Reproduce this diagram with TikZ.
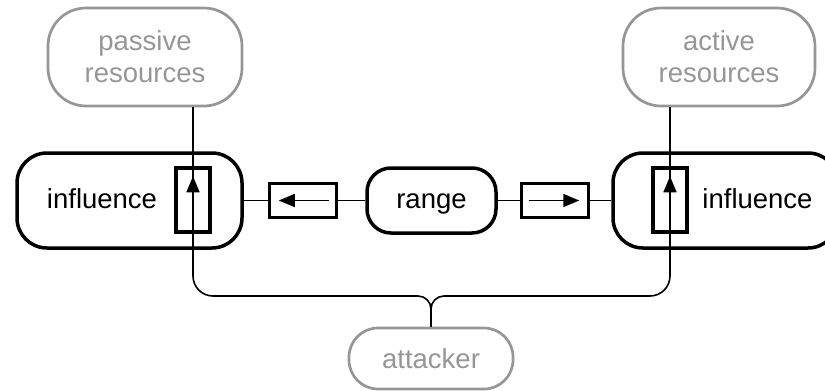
\documentclass[tikz,border=0pt]{standalone}
\usepackage{fontspec}
\setmainfont{Liberation Sans}
\usetikzlibrary{arrows.meta}
\definecolor{soft}{RGB}{150,150,150}
\begin{document}
\begin{tikzpicture}[x=1pt,y=-1pt,
  font=\fontsize{27.5}{32}\selectfont,
  block/.style={draw=black, line width=3.5pt, rounded corners=30pt, inner sep=0pt},
  pill/.style={draw=soft, text=soft, line width=2.7pt, inner sep=0pt, align=center},
  gate/.style={draw=black, line width=3.5pt, fill=white, inner sep=0pt},
  wire/.style={draw=black, line width=1.6pt},
  label/.style={anchor=base, inner sep=0pt},
  tip/.style={-{Triangle[length=16pt,width=13pt]}},
]
\useasboundingbox (0,0) rectangle (825,391);

% outer boxes
\node[block, minimum width=225pt, minimum height=95pt] (lin) at (129.5,200.5) {};
\node[block, minimum width=225pt, minimum height=95pt] (rin) at (725.5,200.5) {};
\node[block, rounded corners=24pt, minimum width=129pt, minimum height=65pt] (rng) at (431.5,200.5) {};
\node[label] (lintxt) at (102,208) {influence};
\node[label] (rintxt) at (757.5,208) {influence};
\node[label] (rngtxt) at (431.5,208) {range};

% resources and attacker
\node[pill, rounded corners=38pt, minimum width=194pt, minimum height=98pt] (pres) at (145,57) {passive\\resources};
\node[pill, rounded corners=38pt, minimum width=192pt, minimum height=98pt] (ares) at (719,57) {active\\resources};
\node[pill, rounded corners=29pt, minimum width=164pt, minimum height=61pt] (att) at (431,358.5) {attacker};

% gates
\node[gate, minimum width=34pt, minimum height=64pt] (lup) at (193,200) {};
\node[gate, minimum width=34pt, minimum height=64pt] (rup) at (670,200) {};
\node[gate, minimum width=67pt, minimum height=34pt] (lgo) at (303,200.5) {};
\node[gate, minimum width=67pt, minimum height=34pt] (rgo) at (555,200.5) {};

% horizontal links
\draw[wire] (lin.east) -- (lgo.west);
\draw[wire] (lgo.east) -- (rng.west);
\draw[wire] (rng.east) -- (rgo.west);
\draw[wire] (rgo.east) -- (rin.west);
\draw[wire, tip] ([xshift=-9pt]lgo.east) -- ([xshift=11pt]lgo.west);
\draw[wire, tip] ([xshift=9pt]rgo.west) -- ([xshift=-11pt]rgo.east);

% vertical links to resources
\draw[wire] (lup |- pres.south) -- (lup.center);
\draw[wire] (rup |- ares.south) -- (rup.center);
\draw[wire, tip] (lup.south) -- ([yshift=-10pt]lup.north);
\draw[wire, tip] (rup.south) -- ([yshift=-10pt]rup.north);

% attacker bus
\coordinate (join) at (431,296);
\draw[wire, rounded corners=20pt] (lup.south) |- ([xshift=-30pt]join);
\draw[wire, rounded corners=20pt] (rup.south) |- ([xshift=30pt]join);
\draw[wire, rounded corners=13pt] ([xshift=-30pt]join) -- (join) -- (att.north);
\draw[wire, rounded corners=13pt] ([xshift=30pt]join) -- (join) -- (att.north);
\end{tikzpicture}
\end{document}
